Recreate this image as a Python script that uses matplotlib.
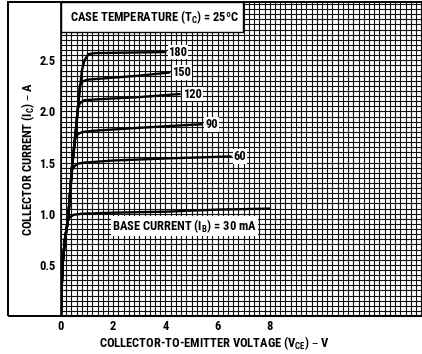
import numpy as np
import matplotlib
matplotlib.use("Agg")
import matplotlib.pyplot as plt
from matplotlib.patches import Rectangle

plt.rcParams['font.family'] = ['Roboto Condensed', 'Liberation Sans Narrow', 'Liberation Sans', 'DejaVu Sans']
plt.rcParams['font.weight'] = 'bold'
plt.rcParams['axes.labelweight'] = 'bold'

# curves: (V_CE in V, I_C in A) for each base current
base_labels = ["30", "60", "90", "120", "150", "180"]
vce_30 = [0, 0.03, 0.06, 0.15, 0.27, 0.35, 0.5, 0.8, 2, 4, 6, 8]
ic_30 = [0, 0.3, 0.5, 0.75, 0.94, 0.97, 0.99, 1.0, 1.01, 1.02, 1.04, 1.05]
vce_60 = [0, 0.03, 0.06, 0.15, 0.27, 0.42, 0.5, 0.65, 0.9, 2, 4, 6.5]
ic_60 = [0, 0.3, 0.5, 0.75, 0.94, 1.42, 1.46, 1.49, 1.5, 1.52, 1.54, 1.56]
vce_90 = [0, 0.03, 0.06, 0.15, 0.27, 0.42, 0.55, 0.65, 0.85, 1.2, 3, 5.4]
ic_90 = [0, 0.3, 0.5, 0.75, 0.94, 1.45, 1.74, 1.78, 1.8, 1.81, 1.84, 1.875]
vce_120 = [0, 0.03, 0.06, 0.15, 0.27, 0.42, 0.57, 0.64, 0.72, 0.9, 1.5, 3, 4.55]
ic_120 = [0, 0.3, 0.5, 0.75, 0.94, 1.45, 1.82, 2.02, 2.08, 2.11, 2.12, 2.14, 2.17]
vce_150 = [0, 0.03, 0.06, 0.15, 0.27, 0.42, 0.57, 0.65, 0.72, 0.8, 1.0, 2, 3, 4.15]
ic_150 = [0, 0.3, 0.5, 0.75, 0.94, 1.45, 1.82, 2.04, 2.25, 2.29, 2.31, 2.33, 2.35, 2.38]
vce_180 = [0, 0.03, 0.06, 0.15, 0.27, 0.42, 0.57, 0.65, 0.8, 0.9, 1.05, 1.3, 2.5, 4.0]
ic_180 = [0, 0.3, 0.5, 0.75, 0.94, 1.45, 1.82, 2.04, 2.4, 2.5, 2.56, 2.57, 2.575, 2.58]

curves = [(vce_30, ic_30), (vce_60, ic_60), (vce_90, ic_90),
          (vce_120, ic_120), (vce_150, ic_150), (vce_180, ic_180)]

x_ticks = [0, 2, 4, 6, 8]
y_ticks = [0.5, 1.0, 1.5, 2.0, 2.5]

W, H = 422, 354
fig = plt.figure(figsize=(W / 100, H / 100), dpi=100)
ax = fig.add_axes([61 / W, (H - 316) / H, (W - 61) / W, (316 - 3) / H])

ax.set_xlim(0, 13.83)
ax.set_ylim(0, 3.06)
ax.set_xticks(x_ticks)
ax.set_yticks(y_ticks)
ax.set_xticklabels([str(t) for t in x_ticks])
ax.set_yticklabels(["%.1f" % t for t in y_ticks])
ax.set_xticks(np.arange(0, 14, 0.2), minor=True)
ax.set_yticks(np.arange(0, 3.1, 0.05), minor=True)
ax.tick_params(which='both', length=0, labelsize=9, pad=4)
ax.tick_params(axis='x', pad=3)
ax.grid(which='both', color='#111111', lw=0.8)
ax.set_axisbelow(True)
for s in ax.spines.values():
    s.set_visible(False)
ax.spines['left'].set_visible(True)
ax.spines['bottom'].set_visible(True)
ax.spines['left'].set_linewidth(1.2)
ax.spines['bottom'].set_linewidth(1.5)

for (v, i), lab in zip(curves, base_labels):
    ax.plot(v, i, color='black', lw=1.7, solid_capstyle='round', zorder=3)
    if lab != "30":
        ax.text(v[-1] + 0.12, i[-1], lab, fontsize=9, va='center', ha='left',
                zorder=4, bbox=dict(facecolor='white', edgecolor='none', pad=0.6))

ax.text(1.95, 0.88, "BASE CURRENT (I$_\\mathregular{B}$) = 30 mA", fontsize=9,
        va='center', ha='left', zorder=4,
        bbox=dict(facecolor='white', edgecolor='none', pad=0.8))

ax.set_xlabel("COLLECTOR-TO-EMITTER VOLTAGE (V$_\\mathregular{CE}$) \u2013 V", fontsize=9)
ax.xaxis.set_label_coords(0.425, -(343 - 316) / 313)
ax.xaxis.label.set_va('center')
ax.set_ylabel("COLLECTOR CURRENT (I$_\\mathregular{C}$) \u2013 A", fontsize=9)
ax.yaxis.set_label_coords(-(61 - 28) / (W - 61), 0.5)
ax.yaxis.label.set_va('center')

# outer frame and title box
fig.patches.append(Rectangle((8 / W, (H - 316) / H), (W - 8) / W + 0.01, (316 - 2) / H,
                             transform=fig.transFigure, fill=False, lw=1.4,
                             edgecolor='black', zorder=5))
fig.patches.append(Rectangle((61 / W, (H - 32) / H), (243 - 61) / W, 30 / H,
                             transform=fig.transFigure, facecolor='white', lw=1.0,
                             edgecolor='black', zorder=6))
fig.text(70 / W, (H - 17) / H, "CASE TEMPERATURE (T$_\\mathregular{C}$) = 25\u00baC",
         fontsize=9, va='center', ha='left', zorder=7)

fig.savefig("out.png", dpi=100)
